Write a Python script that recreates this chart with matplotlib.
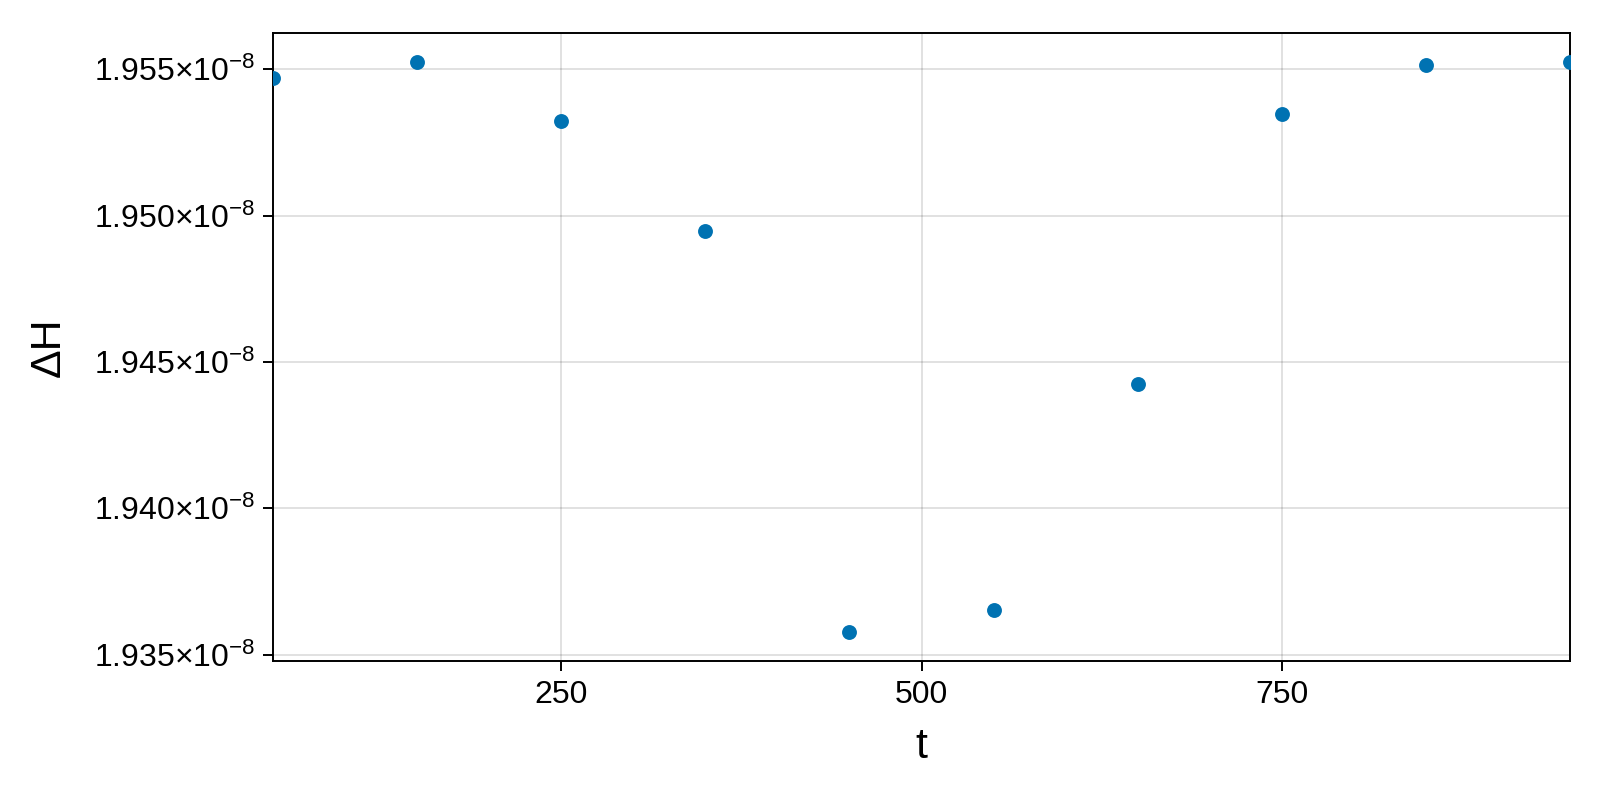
import matplotlib
matplotlib.use("Agg")
from matplotlib import pyplot as plt
from matplotlib.ticker import FixedLocator, FuncFormatter

# data
t = [50, 150, 250, 350, 450, 550, 650, 750, 850, 950]
dH = [1.95470e-8, 1.95525e-8, 1.95324e-8, 1.94946e-8, 1.93576e-8,
      1.93654e-8, 1.94424e-8, 1.95347e-8, 1.95515e-8, 1.95526e-8]
x_ticks = [250, 500, 750]
y_ticks = [1.935e-8, 1.940e-8, 1.945e-8, 1.950e-8, 1.955e-8]

plt.rcParams['font.family'] = ['Liberation Sans', 'DejaVu Sans']
plt.rcParams['mathtext.fontset'] = 'custom'
plt.rcParams['mathtext.rm'] = 'Liberation Sans'
plt.rcParams['mathtext.it'] = 'Liberation Sans:italic'


def sci_label(v, pos):
    return '%.3f×10$^{-8}$' % (v * 1e8)


fig = plt.figure(figsize=(16, 8), dpi=100)
left, right, top, bottom = 273, 1570, 33, 661
ax = fig.add_axes([left / 1600, 1 - bottom / 800,
                   (right - left) / 1600, (bottom - top) / 800])

ax.scatter(t, dH, s=115, c='#0072B2', linewidths=0, zorder=3)

ymin, ymax = min(dH), max(dH)
pad = 0.05 * (ymax - ymin)
ax.set_xlim(50, 950)
ax.set_ylim(ymin - pad, ymax + pad)

ax.xaxis.set_major_locator(FixedLocator(x_ticks))
ax.yaxis.set_major_locator(FixedLocator(y_ticks))
ax.yaxis.set_major_formatter(FuncFormatter(sci_label))

ax.grid(True, color='black', alpha=0.12, linewidth=1.4)
ax.set_axisbelow(True)
for sp in ax.spines.values():
    sp.set_linewidth(1.4)
ax.tick_params(labelsize=23, length=7, width=1.4)
ax.tick_params(axis='x', pad=7)
ax.tick_params(axis='y', pad=6)

ax.set_xlabel('t', fontsize=31, labelpad=12)
ax.set_ylabel('ΔH', fontsize=31, labelpad=18)

fig.savefig('out.png', dpi=100)
